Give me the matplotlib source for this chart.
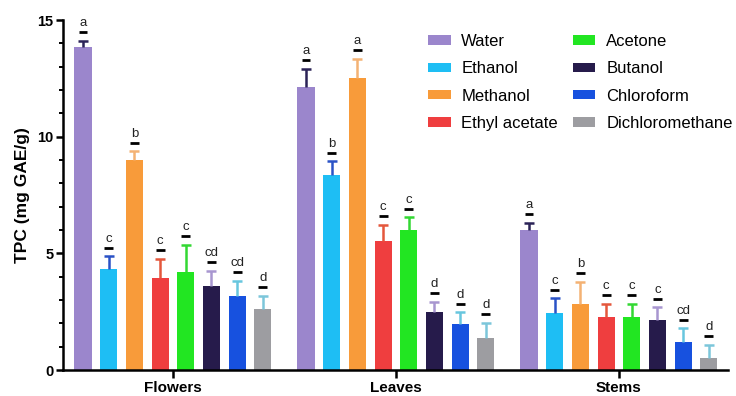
import matplotlib
matplotlib.use("Agg")
import matplotlib.pyplot as plt
import numpy as np
from matplotlib.transforms import offset_copy
from matplotlib.ticker import MultipleLocator

plt.rcParams["font.family"] = ["Liberation Sans", "DejaVu Sans"]

# Plant parts and extraction solvents
parts = ["Flowers", "Leaves", "Stems"]
solvents = ["Water", "Ethanol", "Methanol", "Ethyl acetate",
            "Acetone", "Butanol", "Chloroform", "Dichloromethane"]

# Mean TPC (mg GAE/g) per solvent, ordered Flowers, Leaves, Stems
water = [13.85, 12.12, 6.01]
ethanol = [4.33, 8.36, 2.43]
methanol = [9.00, 12.50, 2.83]
ethyl_acetate = [3.95, 5.51, 2.26]
acetone = [4.18, 5.98, 2.29]
butanol = [3.58, 2.50, 2.15]
chloroform = [3.18, 1.97, 1.22]
dichloromethane = [2.61, 1.36, 0.50]

# Standard deviations
water_sd = [0.25, 0.78, 0.31]
ethanol_sd = [0.55, 0.58, 0.65]
methanol_sd = [0.37, 0.83, 0.96]
ethyl_acetate_sd = [0.82, 0.71, 0.57]
acetone_sd = [1.19, 0.57, 0.54]
butanol_sd = [0.67, 0.43, 0.54]
chloroform_sd = [0.64, 0.51, 0.57]
dichloromethane_sd = [0.56, 0.67, 0.57]

# Significance letters
water_sig = ["a", "a", "a"]
ethanol_sig = ["c", "b", "c"]
methanol_sig = ["b", "a", "b"]
ethyl_acetate_sig = ["c", "c", "c"]
acetone_sig = ["c", "c", "c"]
butanol_sig = ["cd", "d", "c"]
chloroform_sig = ["cd", "d", "cd"]
dichloromethane_sig = ["d", "d", "d"]

means = [water, ethanol, methanol, ethyl_acetate, acetone, butanol,
         chloroform, dichloromethane]
sds = [water_sd, ethanol_sd, methanol_sd, ethyl_acetate_sd, acetone_sd,
       butanol_sd, chloroform_sd, dichloromethane_sd]
sigs = [water_sig, ethanol_sig, methanol_sig, ethyl_acetate_sig, acetone_sig,
        butanol_sig, chloroform_sig, dichloromethane_sig]

bar_colors = ["#9B86CC", "#1EBEF4", "#F89B3A", "#EF3E3F",
              "#22E622", "#261B4B", "#1751DF", "#9D9DA1"]
err_colors = ["#2B2357", "#2A52C6", "#F4B274", "#E4573C",
              "#33D833", "#A896D0", "#68C6DE", "#7CC6DA"]

fig = plt.figure(figsize=(7.36, 3.96), dpi=100)
ax = fig.add_axes([63 / 736, 26 / 396, 665 / 736, 350 / 396])

x = np.arange(len(parts))
pitch = 0.1152
width = 0.077
n = len(solvents)

line_tf = offset_copy(ax.transData, fig=fig, y=6.2, units="points")
text_tf = offset_copy(ax.transData, fig=fig, y=10.5, units="points")

for i, (name, m, s, sg) in enumerate(zip(solvents, means, sds, sigs)):
    xi = x + (i - (n - 1) / 2) * pitch
    m = np.asarray(m)
    s = np.asarray(s)
    ax.bar(xi, m, width=width, color=bar_colors[i], label=name, zorder=2)
    # upper-only error bars: stem plus a single cap
    ax.vlines(xi, m, m + s, colors=err_colors[i], lw=1.8, zorder=3)
    ax.plot(xi, m + s, ls="none", marker="_", ms=6.5, mew=1.8,
            color=err_colors[i], zorder=3)
    for xx, top, letter in zip(xi, m + s, sg):
        ax.plot([xx - 0.02, xx + 0.02], [top, top], color="black",
                lw=2.0, transform=line_tf, solid_capstyle="butt", zorder=4)
        ax.text(xx, top, letter, transform=text_tf, ha="center",
                va="baseline", fontsize=9.5, color="#222222")

ax.set_xlim(-0.493, 2.489)
ax.set_ylim(0, 15)
ax.set_xticks(x)
ax.set_xticklabels(parts, fontsize=11, fontweight="bold")
ax.yaxis.set_major_locator(MultipleLocator(5))
ax.yaxis.set_minor_locator(MultipleLocator(1))
for lab in ax.get_yticklabels():
    lab.set_fontweight("bold")
    lab.set_fontsize(10.5)
ax.set_ylabel("TPC (mg GAE/g)", fontsize=12.5, fontweight="bold", labelpad=5)

for side in ["top", "right"]:
    ax.spines[side].set_visible(False)
for side in ["left", "bottom"]:
    ax.spines[side].set_linewidth(1.8)
ax.tick_params(axis="y", which="major", length=5, width=1.8, pad=2)
ax.tick_params(axis="y", which="minor", length=3, width=1.4)
ax.tick_params(axis="x", which="major", length=6, width=1.8, pad=2)

ax.legend(ncol=2, loc="upper left", frameon=False, fontsize=12,
          bbox_to_anchor=(428 / 736, 1 - 34 / 396),
          bbox_transform=fig.transFigure, borderaxespad=0, borderpad=0,
          handlelength=1.35, handleheight=0.5, handletextpad=0.65,
          labelspacing=0.74, columnspacing=0.9)

fig.savefig("out.png", dpi=100)
